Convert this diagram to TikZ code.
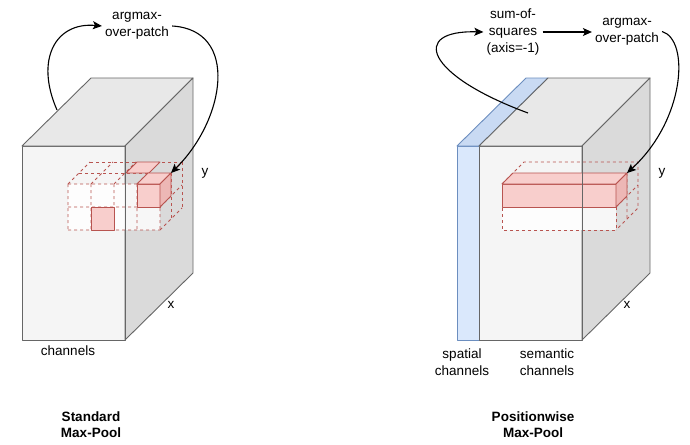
\documentclass[tikz,border=0pt]{standalone}
\usepackage{fontspec}
\setmainfont{Liberation Sans}
\usetikzlibrary{arrows.meta}
\definecolor{boxfront}{HTML}{F5F5F5}
\definecolor{boxtop}{HTML}{E8E8E8}
\definecolor{boxside}{HTML}{DADADA}
\definecolor{boxline}{HTML}{666666}
\definecolor{pinkfill}{HTML}{F8CECC}
\definecolor{pinkside}{HTML}{EDB7B5}
\definecolor{pinkline}{HTML}{B85450}
\definecolor{bluefill}{HTML}{DAE8FC}
\definecolor{bluetop}{HTML}{C9DAF3}
\definecolor{blueline}{HTML}{6C8EBF}
\begin{document}
\begin{tikzpicture}[x=1pt, y=-1pt,
                    box_face/.style={draw=boxline, line width=0.9pt, line join=round},
                    blue_face/.style={draw=blueline, line width=0.9pt, line join=round},
                    patch_line/.style={draw=pinkline, dash pattern=on 3pt off 3pt, line width=0.8pt},
                    red_face/.style={draw=pinkline, line width=0.8pt, fill=pinkfill, line join=round},
                    label_text/.style={font=\fontsize{13.5}{17}\selectfont, align=center, inner sep=3pt},
                    title_text/.style={font=\fontsize{13.5}{16}\selectfont\bfseries, align=center},
                    flow_arrow/.style={-{Stealth[length=9pt, width=8pt, inset=2pt]}, line width=1.1pt}
                ]
                    \useasboundingbox (0,0) rectangle (690,444);

                    \filldraw[box_face, fill=boxfront] (22,146) rectangle (125,340);
                    \filldraw[box_face, fill=boxtop] (22,146) -- (91,78) -- (193,78) -- (125,146) -- cycle;
                    \filldraw[box_face, fill=boxside] (125,146) -- (193,78) -- (193,273) -- (125,340) -- cycle;

                    \fill[white, opacity=0.8] (68,184) rectangle (160,230);
                    \foreach \i in {0,...,4}
                        \draw[patch_line] (68+23*\i,184) -- (68+23*\i,230) (68+23*\i,184) -- (90+23*\i,162);
                    \foreach \j in {0,1,2}
                        \draw[patch_line] (68,184+23*\j) -- (160,184+23*\j) (160,184+23*\j) -- (182,162+23*\j);
                    \foreach \d in {11,22}
                        \draw[patch_line] (68+\d,184-\d) -- (160+\d,184-\d) (160+\d,184-\d) -- (160+\d,230-\d);

                    \filldraw[red_face] (126,173) -- (149,173) -- (160,162) -- (137,162) -- cycle;
                    \filldraw[red_face] (91,207) rectangle (114,230);
                    \filldraw[red_face] (137,184) rectangle (160,207);
                    \filldraw[red_face] (137,184) -- (160,184) -- (171,173) -- (148,173) -- cycle;
                    \filldraw[red_face, fill=pinkside] (160,184) -- (171,173) -- (171,196) -- (160,207) -- cycle;
                    \draw[box_face] (125,146) -- (125,340);

                    \coordinate (top_a) at (57,110);
                    \coordinate (cube_a) at (171,173);
                    \node[label_text] (argmax_a) at (137,26) {argmax-\\over-patch};
                    \node[label_text] (y_a) at (205,173) {y};
                    \node[label_text] (x_a) at (171,305) {x};
                    \node[label_text] (channels_a) at (68,351) {channels};
                    \node[title_text] (title_a) at (91,425) {Standard\\Max-Pool};
                    \draw[flow_arrow] (top_a) .. controls (35,60) and (55,22) .. (argmax_a.west);
                    \draw[flow_arrow] (argmax_a.east) .. controls (240,30) and (225,120) .. (cube_a);

                    \filldraw[blue_face, fill=bluefill] (457,146) rectangle (479,340);
                    \filldraw[blue_face, fill=bluetop] (457,146) -- (526,78) -- (548,78) -- (479,146) -- cycle;
                    \filldraw[box_face, fill=boxfront] (479,146) rectangle (582,340);
                    \filldraw[box_face, fill=boxtop] (479,146) -- (548,78) -- (650,78) -- (582,146) -- cycle;
                    \filldraw[box_face, fill=boxside] (582,146) -- (650,78) -- (650,273) -- (582,340) -- cycle;

                    \fill[white, opacity=0.8] (502,184) rectangle (616,230);
                    \draw[patch_line] (502,184) rectangle (616,230);
                    \draw[patch_line] (502,184) -- (524,162) -- (638,162) -- (638,208) -- (616,230);
                    \draw[patch_line] (616,184) -- (638,162) (616,207) -- (638,185) (627,173) -- (627,219);
                    \filldraw[red_face] (502,184) rectangle (616,207);
                    \filldraw[red_face] (502,184) -- (616,184) -- (627,173) -- (513,173) -- cycle;
                    \filldraw[red_face, fill=pinkside] (616,184) -- (627,173) -- (627,196) -- (616,207) -- cycle;
                    \draw[box_face] (582,146) -- (582,340);

                    \coordinate (top_b) at (528,113);
                    \coordinate (bar_b) at (627,173);
                    \node[label_text] (sum_b) at (513,32) {sum-of-\\squares\\(axis=-1)};
                    \node[label_text] (argmax_b) at (627,31.5) {argmax-\\over-patch};
                    \node[label_text] (y_b) at (662,173) {y};
                    \node[label_text] (x_b) at (627,305) {x};
                    \node[label_text] (spatial_b) at (462,362) {spatial\\channels};
                    \node[label_text] (semantic_b) at (547,362) {semantic\\channels};
                    \node[title_text] (title_b) at (533,425) {Positionwise\\Max-Pool};
                    \draw[flow_arrow] (top_b) .. controls (425,75) and (410,30) .. (sum_b.west);
                    \draw[flow_arrow] (sum_b.east) -- (sum_b.east -| argmax_b.west);
                    \draw[flow_arrow] (argmax_b.east) .. controls (690,40) and (685,120) .. (bar_b);
                \end{tikzpicture}
\end{document}
